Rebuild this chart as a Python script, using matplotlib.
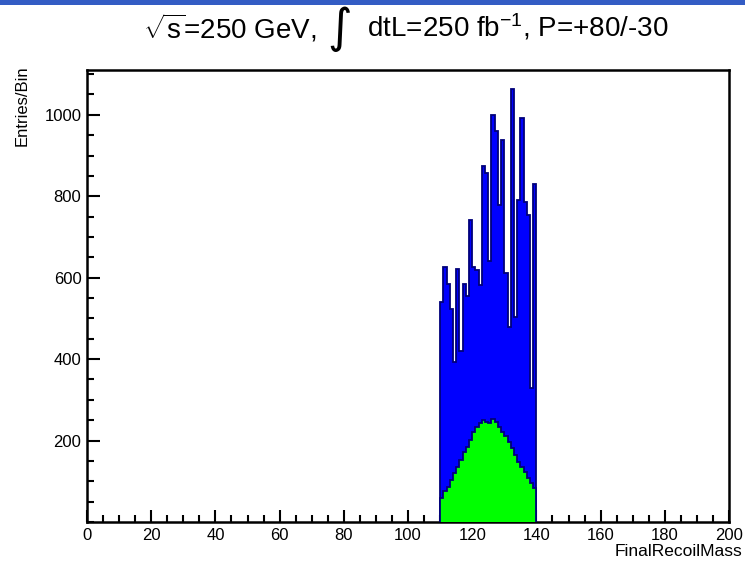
import numpy as np
import matplotlib
matplotlib.use("Agg")
import matplotlib.pyplot as plt
from matplotlib.patches import Rectangle
from matplotlib.ticker import MultipleLocator

plt.rcParams['font.family'] = ['Liberation Sans', 'DejaVu Sans']
plt.rcParams['mathtext.fontset'] = 'custom'
plt.rcParams['mathtext.rm'] = 'Liberation Sans'
plt.rcParams['mathtext.it'] = 'Liberation Sans'

# bin edges of the recoil mass histogram (GeV), 1 GeV bins
mass_edges = list(range(110, 141))

# signal (green) per bin
signal = [58, 75, 87, 103, 120, 136, 152, 173, 185, 201,
          222, 234, 242, 251, 246, 242, 252, 246, 234, 222,
          210, 197, 181, 165, 148, 136, 124, 107, 95, 83]

# background (blue) per bin, stacked on the signal
background = [483, 551, 497, 420, 272, 486, 268, 411, 369, 541,
              403, 385, 340, 624, 612, 398, 748, 715, 545, 717,
              401, 283, 882, 339, 643, 856, 663, 647, 235, 747]

title_left = r'$\sqrt{s}$=250 GeV,  '
title_int = '\u222b'
title_right = r'  dtL=250 fb$^{-1}$, P=+80/-30'

fig = plt.figure(figsize=(7.45, 5.63), dpi=100)
ax = fig.add_axes([87/745, 1 - 522/563, (729 - 87)/745, (522 - 70)/563])

# blue header band
fig.patches.append(Rectangle((0, 1 - 5/563), 1, 5/563, transform=fig.transFigure,
                             facecolor='#335cc4', edgecolor='none'))

total = np.array(signal) + np.array(background)
ax.stairs(total, mass_edges, fill=True, facecolor='#0000ff',
          edgecolor='#00007a', linewidth=1.3, zorder=2)
ax.stairs(signal, mass_edges, fill=True, facecolor='#00ff00',
          edgecolor='#00007a', linewidth=1.3, zorder=3)

ax.set_xlim(0, 200)
ax.set_ylim(0, 1110)
ax.xaxis.set_major_locator(MultipleLocator(20))
ax.xaxis.set_minor_locator(MultipleLocator(5))
ax.yaxis.set_minor_locator(MultipleLocator(50))
ax.set_yticks([200, 400, 600, 800, 1000])
ax.tick_params(which='both', direction='in', top=False, right=False, width=1.5,
               labelsize=12)
ax.tick_params(which='major', length=9, pad=4)
ax.tick_params(which='minor', length=5)
for s in ax.spines.values():
    s.set_linewidth(1.8)

fig.text(742/745, 1 - 552/563, 'FinalRecoilMass', ha='right', va='center', fontsize=12.5)
fig.text(22/745, 1 - 65/563, 'Entries/Bin', ha='center', va='top', rotation=90, fontsize=12)

t1 = fig.text(143/745, 1 - 28/563, title_left, fontsize=20, va='center')
t2 = ax.annotate(title_int, xy=(1, 0.45), xycoords=t1, va='center', ha='left',
                 fontsize=34, family='DejaVu Sans', annotation_clip=False)
t3 = ax.annotate(title_right, xy=(1, 0.55), xycoords=t2, va='center', ha='left',
                 fontsize=20, annotation_clip=False)

fig.savefig('out.png', dpi=100)
